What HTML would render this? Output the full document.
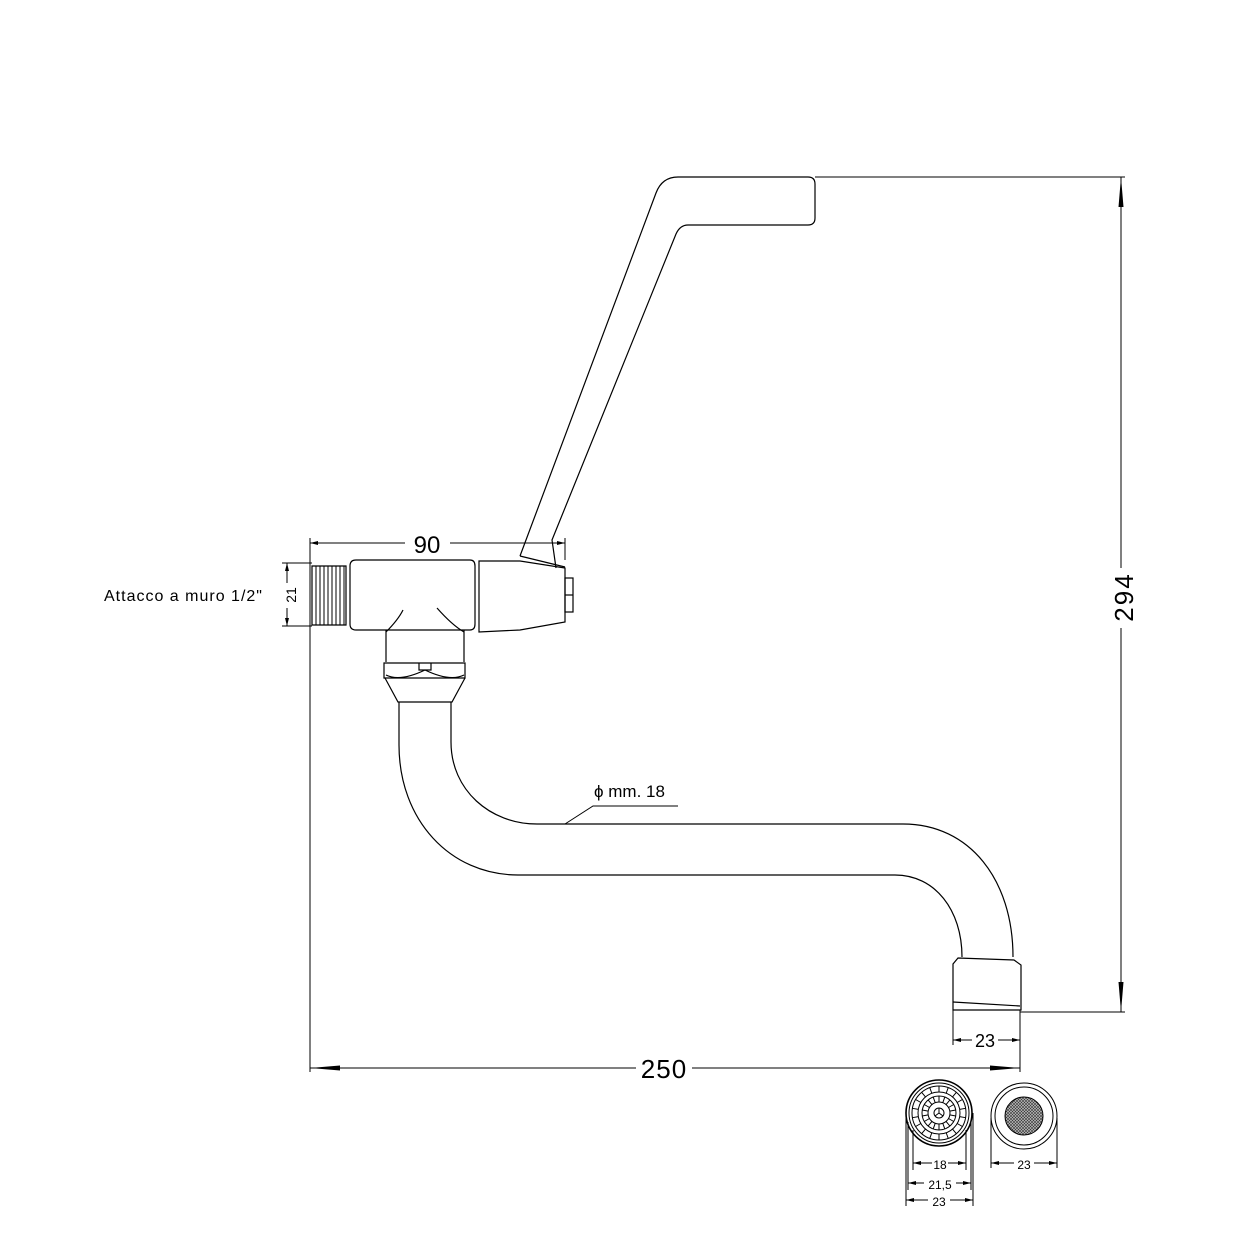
<!DOCTYPE html>
<html><head><meta charset="utf-8"><style>
html,body{margin:0;padding:0;background:#fff}
svg{display:block}
text{font-family:"Liberation Sans",sans-serif;fill:#000}
</style></head><body>
<svg width="1240" height="1240" viewBox="0 0 1240 1240" xmlns="http://www.w3.org/2000/svg">
<defs>
<marker id="a" markerWidth="30" markerHeight="8" refX="30" refY="4" orient="auto" markerUnits="userSpaceOnUse"><path d="M0,1.5 L30,4 L0,6.5z" fill="#000"/></marker>
<marker id="s" markerWidth="8" markerHeight="6" refX="8" refY="3" orient="auto-start-reverse" markerUnits="userSpaceOnUse"><path d="M0,1 L8,3 L0,5z" fill="#000"/></marker>
<pattern id="mesh" width="3" height="3" patternUnits="userSpaceOnUse"><rect width="3" height="3" fill="#bbb"/><path d="M0,0 L3,3 M3,0 L0,3" stroke="#333" stroke-width="0.6"/></pattern>
</defs>
<g fill="none" stroke="#000" stroke-width="1.2">
<path d="M520,556 L656,193 Q662,177 678,177 L808,177 Q815,177 815,184 L815,218 Q815,225 808,225 L688,225 Q680,225 676,234 L552,540 L556,568"/>
<path d="M520,556 L565,567"/>
<path d="M350,566 Q350,560 356,560 L470,560 Q475,560 475,566 L475,624 Q475,630 470,630 L356,630 Q350,630 350,624 Z"/>
<path d="M479,561 L520,561 L565,568 L565,622 L520,630 L479,632 Z"/>
<rect x="565" y="578" width="8" height="34"/>
<line x1="565" y1="595" x2="573" y2="595"/>
<path d="M312,566 L346,566 L346,625 L312,625 Z"/>
<path d="M316,566 V625 M320,566 V625 M324,566 V625 M328,566 V625 M332,566 V625 M336,566 V625 M340,566 V625 M344,566 V625" stroke-width="1"/>
<path d="M386,630 L386,662 M464,630 L464,662"/>
<path d="M386,632 Q398,620 403,610 M464,632 Q452,625 437,608"/>
<path d="M384,663 L465,663 L465,678 L384,678 Z"/>
<path d="M419,663 L419,670 L431,670 L431,663"/>
<path d="M386,675 Q400,682 425,670 Q450,682 464,675"/>
<path d="M385,678 L398,702 L452,702 L465,678"/>
<path d="M399,702 L399,745 C399,820 450,875 518,875 L895,875 C935,875 962,910 962,957"/>
<path d="M451,702 L451,742 C451,790 490,824 537,824 L903,824 C970,824 1013,880 1013,957"/>
<path d="M958,958 L1014,960 L1021,965 L1021,1010 L953,1010 L953,964 Z"/>
<path d="M953,1002 L1020,1006"/>
<path d="M565,824 L593,806 L678,806" stroke-width="1"/>
</g>
<text x="594" y="797" font-size="17">ϕ mm. 18</text>
<g stroke="#000" stroke-width="1" fill="none">
<line x1="310" y1="538" x2="310" y2="1072"/>
<line x1="565" y1="538" x2="565" y2="560"/>
<line x1="310" y1="543" x2="405" y2="543" marker-start="url(#s)"/>
<line x1="450" y1="543" x2="565" y2="543" marker-end="url(#s)"/>
<line x1="282" y1="563" x2="312" y2="563"/>
<line x1="282" y1="626" x2="312" y2="626"/>
<line x1="287" y1="563" x2="287" y2="583" marker-start="url(#s)"/>
<line x1="287" y1="608" x2="287" y2="626" marker-end="url(#s)"/>
<line x1="815" y1="177" x2="1125" y2="177"/>
<line x1="1020" y1="1012" x2="1125" y2="1012"/>
<line x1="1121" y1="568" x2="1121" y2="177" marker-end="url(#a)"/>
<line x1="1121" y1="628" x2="1121" y2="1012" marker-end="url(#a)"/>
<line x1="1020" y1="1010" x2="1020" y2="1072"/>
<line x1="636" y1="1068" x2="310" y2="1068" marker-end="url(#a)"/>
<line x1="692" y1="1068" x2="1020" y2="1068" marker-end="url(#a)"/>
<line x1="953" y1="1010" x2="953" y2="1045"/>
<line x1="953" y1="1040" x2="972" y2="1040" marker-start="url(#s)"/>
<line x1="998" y1="1040" x2="1020" y2="1040" marker-end="url(#s)"/>
</g>
<text x="427" y="553" font-size="24" text-anchor="middle">90</text>
<text x="104" y="601" font-size="16" letter-spacing="1">Attacco a muro 1/2"</text>
<text transform="translate(296,595) rotate(-90)" font-size="14" text-anchor="middle">21</text>
<text transform="translate(1133,597) rotate(-90)" font-size="26" text-anchor="middle" letter-spacing="2">294</text>
<text x="664" y="1078" font-size="26" text-anchor="middle" letter-spacing="1">250</text>
<text x="985" y="1047" font-size="18" text-anchor="middle">23</text>
<g fill="none" stroke="#000" stroke-width="1">
<circle cx="939" cy="1113" r="33" stroke-width="1.6"/>
<circle cx="939" cy="1113" r="30"/>
<circle cx="939" cy="1113" r="27"/>
<circle cx="939" cy="1113" r="21"/>
<circle cx="939" cy="1113" r="17"/>
<circle cx="939" cy="1113" r="11"/>
<circle cx="939" cy="1113" r="5"/>
<path d="M939,1113 L939,1108 M939,1113 L935,1116 M939,1113 L943,1116"/>
<g id="sp"><path d="M939,1086 V1092 M939,1096 V1102"/></g>
<use href="#sp" transform="rotate(20 939 1113)"/><use href="#sp" transform="rotate(40 939 1113)"/><use href="#sp" transform="rotate(60 939 1113)"/><use href="#sp" transform="rotate(80 939 1113)"/><use href="#sp" transform="rotate(100 939 1113)"/><use href="#sp" transform="rotate(120 939 1113)"/><use href="#sp" transform="rotate(140 939 1113)"/><use href="#sp" transform="rotate(160 939 1113)"/><use href="#sp" transform="rotate(180 939 1113)"/><use href="#sp" transform="rotate(200 939 1113)"/><use href="#sp" transform="rotate(220 939 1113)"/><use href="#sp" transform="rotate(240 939 1113)"/><use href="#sp" transform="rotate(260 939 1113)"/><use href="#sp" transform="rotate(280 939 1113)"/><use href="#sp" transform="rotate(300 939 1113)"/><use href="#sp" transform="rotate(320 939 1113)"/><use href="#sp" transform="rotate(340 939 1113)"/>
<circle cx="1024" cy="1116" r="33"/>
<circle cx="1024" cy="1116" r="29"/>
<circle cx="1024" cy="1116" r="19" fill="url(#mesh)"/>
<path d="M913,1130 V1170 M966,1130 V1170 M908,1122 V1190 M971,1122 V1190 M906,1113 V1206 M973,1113 V1206 M991,1118 V1168 M1057,1118 V1168"/>
<line x1="913" y1="1163" x2="932" y2="1163" marker-start="url(#s)"/>
<line x1="948" y1="1163" x2="966" y2="1163" marker-end="url(#s)"/>
<line x1="908" y1="1183" x2="924" y2="1183" marker-start="url(#s)"/>
<line x1="956" y1="1183" x2="971" y2="1183" marker-end="url(#s)"/>
<line x1="906" y1="1200" x2="928" y2="1200" marker-start="url(#s)"/>
<line x1="950" y1="1200" x2="973" y2="1200" marker-end="url(#s)"/>
<line x1="991" y1="1163" x2="1014" y2="1163" marker-start="url(#s)"/>
<line x1="1034" y1="1163" x2="1057" y2="1163" marker-end="url(#s)"/>
</g>
<text x="940" y="1169" font-size="12" text-anchor="middle">18</text>
<text x="940" y="1189" font-size="12" text-anchor="middle">21,5</text>
<text x="939" y="1206" font-size="12" text-anchor="middle">23</text>
<text x="1024" y="1169" font-size="12" text-anchor="middle">23</text>
</svg>
</body></html>
